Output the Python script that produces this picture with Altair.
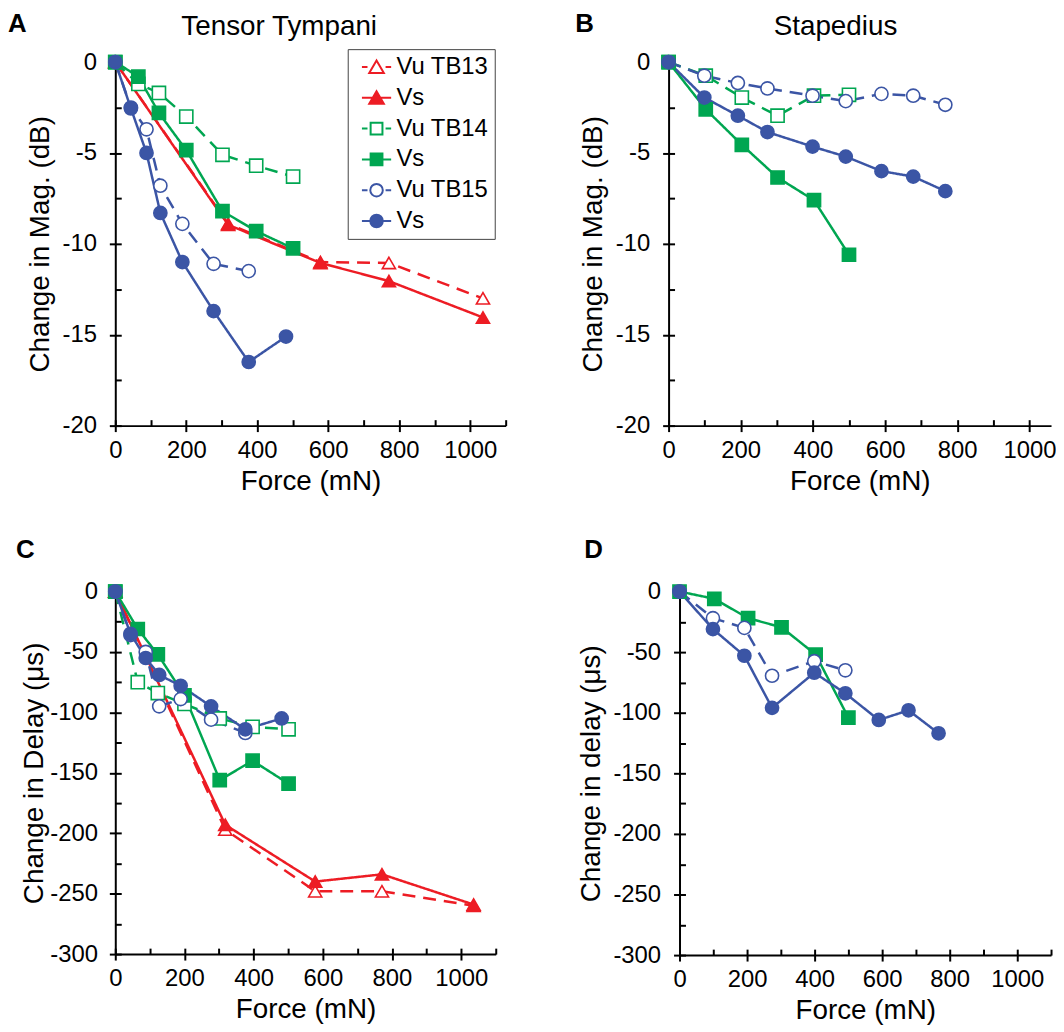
import altair as alt
import pandas as pd

FONT = "Liberation Sans"
SERIES = ["Vu TB13", "Vs TB13", "Vu TB14", "Vs TB14", "Vu TB15", "Vs TB15"]
RED, GREEN, BLUE = "#ED1C24", "#00A651", "#3B55A5"
COLORS = [RED, RED, GREEN, GREEN, BLUE, BLUE]
FILLS = ["white", RED, "white", GREEN, "white", BLUE]
SHAPES = ["triangle-up", "triangle-up", "square", "square", "circle", "circle"]
SIZES = [175, 175, 170, 170, 160, 160]
DASHES = [[13, 8], [1, 0], [13, 8], [1, 0], [13, 8], [1, 0]]

LINE_SOLID = "M-2.1,0H2.1"
LINE_DASH = "M-2.1,0H-1.3M1.3,0H2.1"
TRI = "M0,-0.95L1.05,0.85L-1.05,0.85Z"
SQR = "M-0.85,-0.85H0.85V0.85H-0.85Z"
CIR = "M-0.9,0A0.9,0.9,0,1,1,0.9,0A0.9,0.9,0,1,1,-0.9,0Z"
LEGEND_SYMBOLS = [LINE_DASH + TRI, LINE_SOLID + TRI, LINE_DASH + SQR,
                  LINE_SOLID + SQR, LINE_DASH + CIR, LINE_SOLID + CIR]

# Forces (mN)
force_tb13 = [0, 318, 578, 771, 1036]
force_tb14 = [0, 65, 123, 200, 302, 397, 501]
force_tb15 = [0, 44, 88, 127, 189, 277, 376, 481]
force_tb14_st = [0, 103, 203, 302, 403, 500]
force_tb15_st = [0, 99, 192, 274, 399, 491, 590, 678, 767]

# A: Tensor tympani, change in magnitude (dB)
a_vu13 = [0, -8.9, -11.0, -11.05, -13.0]
a_vs13 = [0, -8.95, -11.05, -12.05, -14.05]
a_vu14 = [0, -1.2, -1.7, -3.0, -5.1, -5.7, -6.3]
a_vs14 = [0, -0.8, -2.8, -4.85, -8.2, -9.3, -10.25]
a_vu15 = [0, -2.5, -3.7, -6.8, -8.9, -11.1, -11.5]
a_vs15 = [0, -2.55, -5.0, -8.3, -11.0, -13.7, -16.5, -15.1]

# B: Stapedius, change in magnitude (dB)
b_vu14 = [0, -0.75, -1.95, -2.95, -1.85, -1.8]
b_vs14 = [0, -2.6, -4.55, -6.35, -7.6, -10.6]
b_vu15 = [0, -0.75, -1.15, -1.45, -1.85, -2.15, -1.75, -1.85, -2.35]
b_vs15 = [0, -1.95, -2.95, -3.85, -4.65, -5.2, -6.0, -6.3, -7.1]

# C: Tensor tympani, change in delay (us)
c_vu13 = [0, -197, -248, -248, -260]
c_vs13 = [0, -193, -240, -234, -259]
c_vu14 = [0, -75, -84, -93, -105, -112, -114]
c_vs14 = [0, -31, -52, -86, -156, -140, -159]
c_vu15 = [0, -36, -50, -95, -89, -106, -117]
c_vs15 = [0, -35, -55, -69, -78, -95, -114, -105]

# D: Stapedius, change in delay (us)
d_vs14 = [0, -6, -22, -29.5, -52, -104]
d_vu15 = [0, -22, -30, -69.5, -57.5, -65]
d_vs15 = [0, -31, -53, -96, -67, -84, -106, -98, -117]


def build(series_list):
    rows = []
    for name, forces, values in series_list:
        for f, v in zip(forces, values):
            rows.append({"series": name, "force": f, "value": v})
    return pd.DataFrame(rows)


df_a = build([("Vu TB13", force_tb13, a_vu13), ("Vs TB13", force_tb13, a_vs13),
              ("Vu TB14", force_tb14, a_vu14), ("Vs TB14", force_tb14, a_vs14),
              ("Vu TB15", force_tb15, a_vu15), ("Vs TB15", force_tb15, a_vs15)])
df_b = build([("Vu TB14", force_tb14_st, b_vu14), ("Vs TB14", force_tb14_st, b_vs14),
              ("Vu TB15", force_tb15_st, b_vu15), ("Vs TB15", force_tb15_st, b_vs15)])
df_c = build([("Vu TB13", force_tb13, c_vu13), ("Vs TB13", force_tb13, c_vs13),
              ("Vu TB14", force_tb14, c_vu14), ("Vs TB14", force_tb14, c_vs14),
              ("Vu TB15", force_tb15, c_vu15), ("Vs TB15", force_tb15, c_vs15)])
df_d = build([("Vs TB14", force_tb14_st, d_vs14),
              ("Vu TB15", force_tb15_st, d_vu15), ("Vs TB15", force_tb15_st, d_vs15)])


def panel(df, ydomain, ymajor, yminor, ytitle, xmax, width, height,
          letter, letter_x, letter_y, name=None, name_x=0, legend=False,
          ytitle_pad=8, ylabel_pad=13):
    base = alt.Chart(df)
    xs = alt.Scale(domain=[0, xmax], nice=False, zero=False)
    ys = alt.Scale(domain=ydomain, nice=False, zero=False)
    x_major = [0, 200, 400, 600, 800, 1000]
    x_minor = [v for v in range(0, int(xmax) + 1, 100)]
    main_x = alt.Axis(values=x_major, tickSize=6, labelPadding=7, labelFlush=False,
                      labelExpr="datum.value + ''",
                      title="Force (mN)", titlePadding=5, orient="bottom")
    main_y = alt.Axis(values=ymajor, tickSize=6, labelPadding=ylabel_pad,
                      labelExpr="datum.value + ''", title=ytitle,
                      titlePadding=ytitle_pad, orient="left")
    lines = base.mark_line(strokeWidth=2.5).encode(
        x=alt.X("force:Q", scale=xs, axis=main_x),
        y=alt.Y("value:Q", scale=ys, axis=main_y),
        color=alt.Color("series:N", scale=alt.Scale(domain=SERIES, range=COLORS), legend=None),
        strokeDash=alt.StrokeDash("series:N", scale=alt.Scale(domain=SERIES, range=DASHES), legend=None),
        order="force:Q",
    )
    points = base.mark_point(opacity=1, strokeWidth=1.6).encode(
        x=alt.X("force:Q", scale=xs, axis=None),
        y=alt.Y("value:Q", scale=ys, axis=None),
        shape=alt.Shape("series:N", scale=alt.Scale(domain=SERIES, range=SHAPES), legend=None),
        fill=alt.Fill("series:N", scale=alt.Scale(domain=SERIES, range=FILLS), legend=None),
        stroke=alt.Stroke("series:N", scale=alt.Scale(domain=SERIES, range=COLORS), legend=None),
        size=alt.Size("series:N", scale=alt.Scale(domain=SERIES, range=SIZES), legend=None),
    )
    inner = base.mark_point(opacity=0).encode(
        x=alt.X("force:Q", scale=xs,
                axis=alt.Axis(values=x_minor, tickSize=6, offset=-6, labels=False,
                              domain=False, title=None, orient="bottom")),
        y=alt.Y("value:Q", scale=ys,
                axis=alt.Axis(values=yminor, tickSize=6, offset=-6, labels=False,
                              domain=False, title=None, orient="left")),
    )
    layers = [inner, lines, points]
    letter_layer = alt.Chart(pd.DataFrame({"label": [letter]})).mark_text(
        font=FONT, fontSize=26, fontWeight="bold", align="left",
        baseline="alphabetic", color="black"
    ).encode(text="label:N", x=alt.value(letter_x), y=alt.value(letter_y))
    layers.append(letter_layer)
    if name:
        name_layer = alt.Chart(pd.DataFrame({"label": [name]})).mark_text(
            font=FONT, fontSize=28, align="center", baseline="alphabetic", color="black"
        ).encode(text="label:N", x=alt.value(name_x), y=alt.value(-27))
        layers.append(name_layer)
    if legend:
        lg = alt.Legend(title=None, orient="none", legendX=234, legendY=-13,
                        symbolSize=196, symbolStrokeWidth=2, symbolOffset=11,
                        labelOffset=8, labelFontSize=24, labelFont=FONT,
                        labelColor="black", strokeColor="#444", fillColor="white",
                        padding=6, rowPadding=7,
                        labelExpr="indexof(datum.label, 'Vs') == 0 ? 'Vs' : datum.label")
        leg_layer = base.transform_filter("datum.force < 0").mark_point(
            opacity=1, strokeWidth=2, size=196
        ).encode(
            shape=alt.Shape("series:N", scale=alt.Scale(domain=SERIES, range=LEGEND_SYMBOLS), legend=lg),
            fill=alt.Fill("series:N", scale=alt.Scale(domain=SERIES, range=FILLS), legend=lg),
            stroke=alt.Stroke("series:N", scale=alt.Scale(domain=SERIES, range=COLORS), legend=lg),
        )
        layers.append(leg_layer)
    return alt.layer(*layers).resolve_scale(
        shape="independent", fill="independent", stroke="independent"
    ).resolve_axis(x="independent", y="independent").properties(width=width, height=height)


panel_a = panel(df_a, [-20, 0], [0, -5, -10, -15, -20], [-2.5 * i for i in range(9)],
                "Change in Mag. (dB)", 1100, 393, 366, "A", -108, -30,
                name="Tensor Tympani", name_x=165, legend=True)
panel_b = panel(df_b, [-20, 0], [0, -5, -10, -15, -20], [-2.5 * i for i in range(9)],
                "Change in Mag. (dB)", 1060, 385, 366, "B", -94, -30,
                name="Stapedius", name_x=168)
panel_c = panel(df_c, [-300, 0], [0, -50, -100, -150, -200, -250, -300],
                [-25 * i for i in range(13)], "Change in Delay (\u03bcs)",
                1100, 383, 365, "C", -100, -34, ytitle_pad=1, ylabel_pad=12)
panel_d = panel(df_d, [-300, 0], [0, -50, -100, -150, -200, -250, -300],
                [-25 * i for i in range(13)], "Change in delay (\u03bcs)",
                1100, 374, 366, "D", -96, -34)

row1 = alt.hconcat(panel_a, panel_b, spacing=69)
row2 = alt.hconcat(panel_c, panel_d, spacing=80)

chart = alt.vconcat(row1, row2, spacing=42).properties(
    padding={"left": 0, "top": 0, "right": 0, "bottom": 5}
).configure_view(stroke=None).configure_axis(
    domainColor="black", domainWidth=2, tickColor="black", tickWidth=2,
    labelFont=FONT, labelFontSize=24, labelColor="black",
    titleFont=FONT, titleFontSize=28, titleFontWeight="normal", titleColor="black",
    grid=False
)

chart.save("out.html", embed_options={"renderer": "svg", "actions": False})
